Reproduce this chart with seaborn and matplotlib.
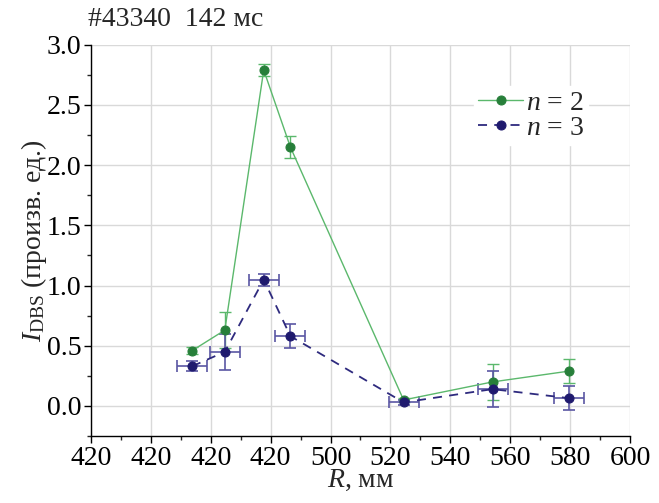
import matplotlib
matplotlib.use("Agg")
import matplotlib.pyplot as plt
import seaborn as sns
import pandas as pd
from matplotlib.ticker import MultipleLocator

# data
r_n2 = [453.8, 464.7, 477.7, 486.6, 524.4, 554.1, 579.7]
i_n2 = [0.46, 0.63, 2.79, 2.15, 0.05, 0.20, 0.29]
i_n2_err = [0.03, 0.15, 0.05, 0.09, 0.02, 0.15, 0.10]

r_n3 = [453.8, 464.7, 477.7, 486.6, 524.4, 554.1, 579.7]
i_n3 = [0.33, 0.45, 1.05, 0.58, 0.03, 0.14, 0.065]
i_n3_err = [0.04, 0.15, 0.05, 0.10, 0.02, 0.15, 0.10]
r_n3_err = [5, 5, 5, 5, 5, 5, 5]

x_ticks = [420, 440, 460, 480, 500, 520, 540, 560, 580, 600]
x_tick_labels = ["420", "420", "420", "420", "500", "520", "540", "560", "580", "600"]
y_ticks = [0.0, 0.5, 1.0, 1.5, 2.0, 2.5, 3.0]
y_tick_labels = ["0.0", "0.5", "1.0", "1.5", "2.0", "2.5", "3.0"]

sns.set_style("white")
plt.rcParams['font.family'] = ['Liberation Serif', 'DejaVu Serif']
plt.rcParams['mathtext.fontset'] = 'custom'
plt.rcParams['mathtext.rm'] = 'Liberation Serif'
plt.rcParams['mathtext.it'] = 'Liberation Serif:italic'

fig = plt.figure(figsize=(6.59, 5.03), dpi=100)
ax = fig.add_axes([0.138, 0.133, 0.818, 0.778])

green_m = "#277f3a"
green_l = "#5bb86c"
navy_m = "#1f1a6e"
navy_l = "#2e2a7e"
navy_e = "#5a56a3"

df2 = pd.DataFrame({"R": r_n2, "I": i_n2})
df3 = pd.DataFrame({"R": r_n3, "I": i_n3})

ax.errorbar(r_n2, i_n2, yerr=i_n2_err, fmt='none', ecolor=green_l, elinewidth=1.0,
            capsize=4, capthick=1.0, zorder=3)
ax.errorbar(r_n3, i_n3, yerr=i_n3_err, xerr=r_n3_err, fmt='none', ecolor=navy_e,
            elinewidth=1.2, capsize=4, capthick=1.2, zorder=3)

sns.lineplot(data=df2, x="R", y="I", ax=ax, color=green_l, lw=1.0, marker='o',
             markersize=6.5, markerfacecolor=green_m, markeredgecolor=green_m,
             sort=False, label="$n$ = 2", zorder=4)
sns.lineplot(data=df3, x="R", y="I", ax=ax, color=navy_l, lw=1.3, marker='o',
             markersize=6.5, markerfacecolor=navy_m, markeredgecolor=navy_m,
             sort=False, label="$n$ = 3", zorder=4, dashes=False, linestyle=(0, (5, 4)))

ax.set_xlim(420, 600)
ax.set_ylim(-0.25, 3.0)
ax.set_xticks(x_ticks)
ax.set_xticklabels(x_tick_labels)
ax.set_yticks(y_ticks)
ax.set_yticklabels(y_tick_labels)
ax.xaxis.set_minor_locator(MultipleLocator(10))
ax.yaxis.set_minor_locator(MultipleLocator(0.25))

ax.grid(True, which='major', color='#d9d9d9', lw=1.0, zorder=0)
ax.set_axisbelow(True)
for s in ['top', 'right']:
    ax.spines[s].set_visible(False)
for s in ['left', 'bottom']:
    ax.spines[s].set_color('black')
    ax.spines[s].set_linewidth(1.0)

ax.tick_params(axis='both', which='major', direction='out', length=5, width=1,
               labelsize=20, colors='black', bottom=True, left=True, pad=2)
ax.tick_params(axis='both', which='minor', direction='out', length=3, width=1,
               bottom=True, left=True)

ax.set_xlabel("$R$, мм", fontsize=20, labelpad=-2)
ax.set_ylabel("$I_{\\mathrm{DBS}}$ (произв. ед.)", fontsize=20, labelpad=-2)

leg = ax.legend(loc='upper right', bbox_to_anchor=(0.948, 0.93), frameon=True,
                fontsize=20, handlelength=1.6, handletextpad=0.1, labelspacing=0.0,
                borderpad=0.15, fancybox=False)
leg.get_frame().set_edgecolor('white')
leg.get_frame().set_facecolor('white')
leg.get_frame().set_alpha(1.0)

fig.text(0.133, 0.962, "#43340  142 мс", fontsize=20, ha='left', va='center')

fig.savefig("out.png", dpi=100)
